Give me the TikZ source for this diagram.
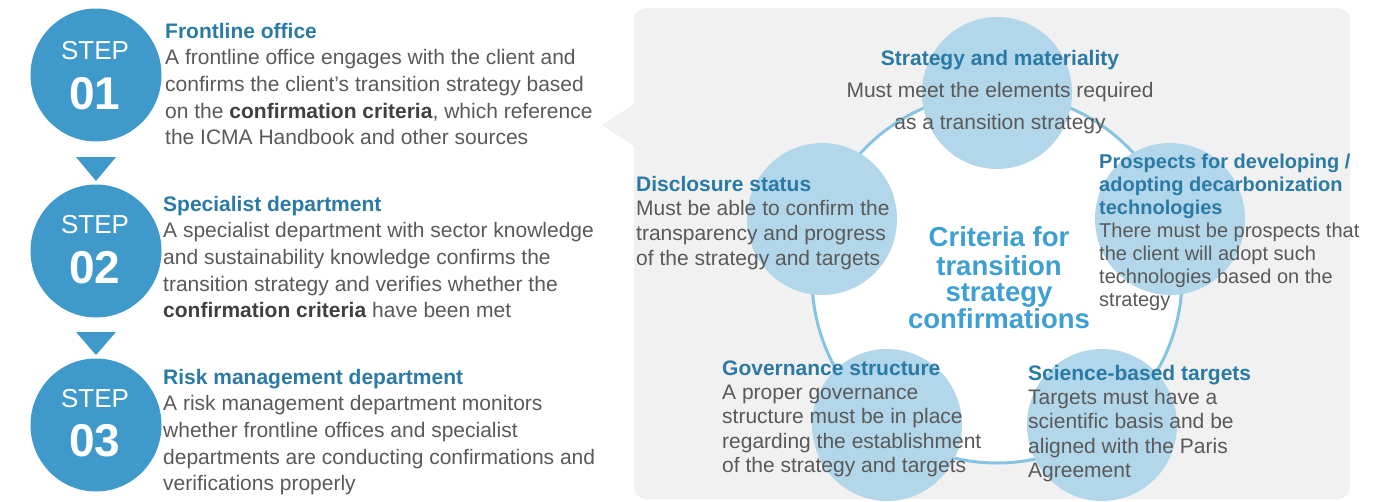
\documentclass[tikz,border=0pt]{standalone}
\usepackage{fontspec}
\usetikzlibrary{shapes.geometric}
\setmainfont{Liberation Sans}
\definecolor{stepblue}{HTML}{3F9ACB}
\definecolor{titleblue}{HTML}{2A7AA5}
\definecolor{bodygray}{HTML}{595959}
\definecolor{bolddark}{HTML}{404040}
\definecolor{bubblefill}{HTML}{B3D7EA}
\definecolor{ringblue}{HTML}{86C4E1}
\definecolor{centerblue}{HTML}{3E9FD2}
\definecolor{panelgray}{HTML}{F1F1F1}
\newcommand{\ttl}[1]{\textcolor{titleblue}{\textbf{#1}}}
\newcommand{\bd}[1]{\textcolor{bolddark}{\textbf{#1}}}
\begin{document}
\begin{tikzpicture}[x=1pt,y=-1pt,
  stepcirc/.style={ellipse,fill=stepblue,minimum width=131pt,minimum height=133pt,inner sep=0pt},
  steplabel/.style={text=white,inner sep=0pt,font=\fontsize{26}{26}\selectfont},
  stepnum/.style={text=white,inner sep=0pt,font=\fontsize{46}{46}\selectfont\bfseries},
  steptext/.style={anchor=north west,inner sep=0pt,align=left,text=bodygray,font=\fontsize{21}{26.6}\selectfont},
  bubble/.style={ellipse,fill=bubblefill,minimum width=150pt,minimum height=152pt,inner sep=0pt},
  crit/.style={anchor=north west,inner sep=0pt,align=left,text=bodygray},
  ringnode/.style={circle,draw=ringblue,line width=3pt,fill=white,minimum size=370pt,inner sep=0pt}
]
\useasboundingbox (0,0) rectangle (1386,501);

% left steps
\node[stepcirc] (s1) at (96,75) {};
\node[stepcirc] (s2) at (96,251) {};
\node[stepcirc] (s3) at (96,425) {};
\node[steplabel] (s1a) at (95,51) {STEP};
\node[stepnum] (s1b) at (95,94) {01};
\node[steplabel] (s2a) at (95,225) {STEP};
\node[stepnum] (s2b) at (95,268) {02};
\node[steplabel] (s3a) at (95,399) {STEP};
\node[stepnum] (s3b) at (95,441) {03};
\fill[stepblue] (76,157) -- (116,157) -- (96,181) -- cycle;
\fill[stepblue] (76,332) -- (116,332) -- (96,355) -- cycle;

\node[steptext] (t1) at (165,19.4) {\strut\ttl{Frontline office}\\
A frontline office engages with the client and\\
confirms the client’s transition strategy based\\
on the \bd{confirmation criteria}, which reference\\
the ICMA Handbook and other sources};
\node[steptext] (t2) at (163,192.4) {\strut\ttl{Specialist department}\\
A specialist department with sector knowledge\\
and sustainability knowledge confirms the\\
transition strategy and verifies whether the\\
\bd{confirmation criteria} have been met};
\node[steptext] (t3) at (163,365.4) {\strut\ttl{Risk management department}\\
A risk management department monitors\\
whether frontline offices and specialist\\
departments are conducting confirmations and\\
verifications properly};

% right panel
\fill[panelgray,rounded corners=12pt] (634,8) rectangle (1350,499);
\fill[panelgray] (634,104) -- (602,125) -- (634,146) -- cycle;

\node[ringnode] (ring) at (997,278) {};
\node[bubble] (b1) at (997,93) {};
\node[bubble] (b2) at (1170,219) {};
\node[bubble] (b3) at (1102,425) {};
\node[bubble] (b4) at (887,425) {};
\node[bubble] (b5) at (822,219) {};

\node[anchor=north,inner sep=0pt,align=center,text=centerblue,font=\fontsize{27.5}{26.3}\selectfont\bfseries] (ctr) at (999,226.5) {\strut Criteria for\\transition\\strategy\\confirmations};

\node[anchor=north,inner sep=0pt,align=center,text=bodygray,font=\fontsize{21}{32}\selectfont] (c1) at (1000,42.6) {\strut\ttl{Strategy and materiality}\\Must meet the elements required\\as a transition strategy};
\node[crit,font=\fontsize{21}{24.6}\selectfont] (c5) at (636,173.8) {\strut\ttl{Disclosure status}\\Must be able to confirm the\\transparency and progress\\of the strategy and targets};
\node[crit,font=\fontsize{20}{23}\selectfont] (c2) at (1099,151.9) {\strut\ttl{Prospects for developing /}\\\ttl{adopting decarbonization}\\\ttl{technologies}\\There must be prospects that\\the client will adopt such\\technologies based on the\\strategy};
\node[crit,font=\fontsize{21}{24.3}\selectfont] (c4) at (722,358) {\strut\ttl{Governance structure}\\A proper governance\\structure must be in place\\regarding the establishment\\of the strategy and targets};
\node[crit,font=\fontsize{21}{24.3}\selectfont] (c3) at (1028,363) {\strut\ttl{Science-based targets}\\Targets must have a\\scientific basis and be\\aligned with the Paris\\Agreement};
\end{tikzpicture}
\end{document}
